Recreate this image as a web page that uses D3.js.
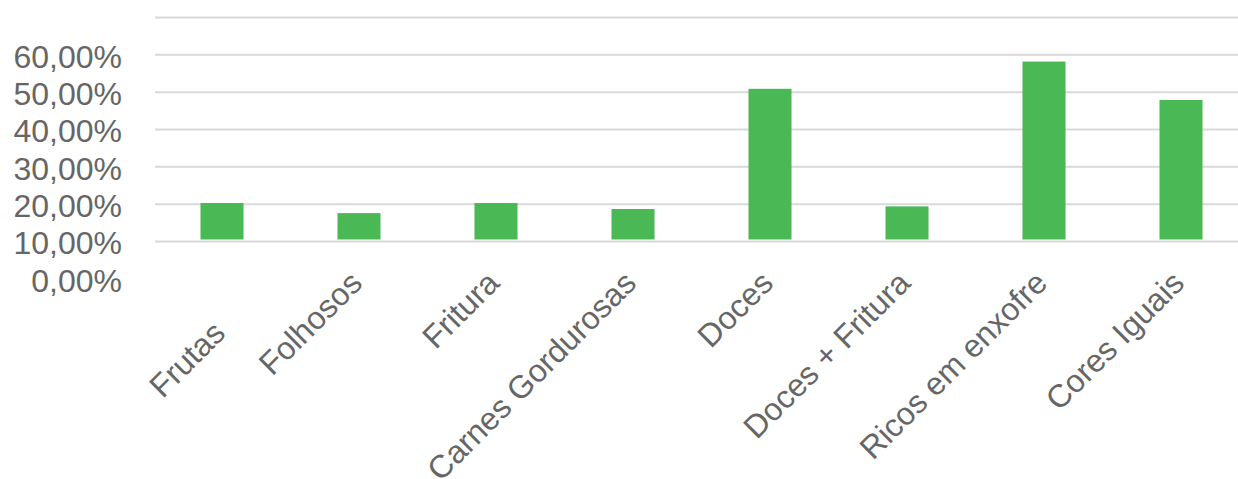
<!DOCTYPE html>
<html>
<head>
<meta charset="utf-8">
<script src="https://cdn.jsdelivr.net/npm/d3@7"></script>
<style>
  html, body { margin: 0; padding: 0; background: #fff; }
  svg { display: block; font-family: "Liberation Sans", Arial, sans-serif; }
</style>
</head>
<body>
<svg id="chart" width="1238" height="479"></svg>
<script>
// categories and values (%)
var categories = ['Frutas', 'Folhosos', 'Fritura', 'Carnes Gordurosas', 'Doces',
                  'Doces + Fritura', 'Ricos em enxofre', 'Cores Iguais'];
var values = [20.3, 17.6, 20.3, 18.7, 50.9, 19.4, 58.2, 47.9];
var baseline = 10;                               // bars rise from the 10% line
var gridTicks = [10, 20, 30, 40, 50, 60, 70];
var labelTicks = [0, 10, 20, 30, 40, 50, 60];

var svg = d3.select('#chart');
var width = 1238;

var y = d3.scaleLinear()
  .domain([0, 70])
  .range([278.8, 17.5]);

var x = d3.scaleBand()
  .domain(categories)
  .range([153.5, 1249.5])
  .paddingInner(0.686)
  .paddingOuter(0.343);

// gridlines
svg.append('g')
  .selectAll('line')
  .data(gridTicks)
  .join('line')
    .attr('x1', 155)
    .attr('x2', width)
    .attr('y1', function(d) { return y(d); })
    .attr('y2', function(d) { return y(d); })
    .attr('stroke', '#d9d9d9')
    .attr('stroke-width', 2)
;

// y labels
svg.append('g')
  .selectAll('text')
  .data(labelTicks)
  .join('text')
    .attr('x', 122)
    .attr('y', function(d) { return y(d) + 13; })
    .attr('text-anchor', 'end')
    .attr('fill', '#666')
    .attr('font-size', 32)
    .text(function(d) { return d3.format('.2f')(d).replace('.', ',') + '%'; })
;

// bars
svg.append('g')
  .selectAll('rect')
  .data(values)
  .join('rect')
    .attr('x', function(d, i) { return x(categories[i]); })
    .attr('width', x.bandwidth())
    .attr('y', function(d) { return y(d); })
    .attr('height', function(d) { return y(baseline) - y(d) - 2; })
    .attr('fill', '#4ab855')
;

// category labels, rotated
svg.append('g')
  .selectAll('text')
  .data(categories)
  .join('text')
    .attr('text-anchor', 'end')
    .attr('fill', '#666')
    .attr('font-size', 32)
    .attr('transform', function(d, i) {
      var cx = x(d) + x.bandwidth() / 2 + 5;
      var cy = 285 + (i === 0 ? 50 : 0);   // "Frutas" sits lower in the original
      return 'translate(' + cx + ',' + cy + ') rotate(-45)';
    })
    .text(function(d) { return d; })
;
</script>
</body>
</html>
